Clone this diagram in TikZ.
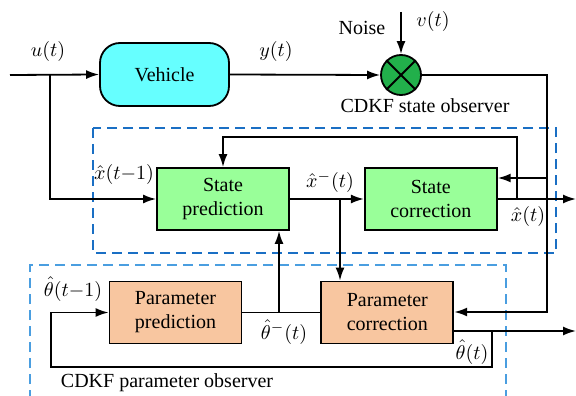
\documentclass[tikz,border=0pt]{standalone}
\usepackage{fontspec}
\setmainfont{Liberation Serif}
\usepackage{tikz}
\usetikzlibrary{arrows.meta, positioning}
\definecolor{vehcyan}{HTML}{66FFFF}
\definecolor{stategreen}{HTML}{99FF99}
\definecolor{paramorange}{HTML}{F8C6A0}
\definecolor{sumgreen}{HTML}{22B04B}
\definecolor{obsblue}{HTML}{1A6FC4}
\definecolor{obslight}{HTML}{4A9EE0}

\begin{document}
\begin{tikzpicture}[
  x=0.5pt, y=-0.5pt,
  box/.style={draw, line width=0.9pt, minimum width=66pt, minimum height=31pt, align=center, inner sep=1pt},
  sbox/.style={box, fill=stategreen},
  pbox/.style={box, fill=paramorange},
  lbl/.style={inner sep=0.5pt},
  con/.style={line width=0.9pt},
  arr/.style={con, -{Latex[length=6.5pt,width=4.5pt]}},
  obsbox/.style={obsblue, line width=1pt, dash pattern=on 5pt off 3pt},
  obsbox2/.style={obslight, line width=0.8pt, dash pattern=on 5pt off 3pt},
]
\useasboundingbox (0,0) rectangle (576,395);
% observer frames
\draw[obsbox] (93,128) rectangle (556,253);
\draw[obsbox2] (30,400) -- (30,265) -- (506,265) -- (506,400);
% blocks
\node[box, fill=vehcyan, rounded corners=10pt, minimum width=64.5pt, minimum height=31.5pt] (veh) at (164.5,74.5) {Vehicle};
\node[circle, draw, fill=sumgreen, minimum size=20pt, inner sep=0pt, line width=0.9pt] (sum) at (401,75) {};
\draw[con] (sum.north west) -- (sum.south east);
\draw[con] (sum.north east) -- (sum.south west);
\node[sbox] (sp) at (223,199) {State\\prediction};
\node[sbox, right=37pt of sp] (sc) {State\\correction};
\node[pbox] (pp) at (175.5,312.5) {Parameter\\prediction};
\node[pbox, right=39pt of pp] (pc) {Parameter\\correction};
% labels
\node[lbl] (lu) at (48,52) {$u(t)$};
\node[lbl] (ly) at (276,52) {$y(t)$};
\node[lbl] (lnoise) at (362,28) {Noise};
\node[lbl] (lv) at (433,22) {$v(t)$};
\node[lbl] (lstate) at (425,106) {CDKF state observer};
\node[lbl] (lxold) at (124,174) {$\hat{x}(t{-}1)$};
\node[lbl] (lxpre) at (330,182) {$\hat{x}^{-}(t)$};
\node[lbl] (lxnew) at (528,216) {$\hat{x}(t)$};
\node[lbl] (lthold) at (73,289) {$\hat{\theta}(t{-}1)$};
\node[lbl] (lthpre) at (284,332) {$\hat{\theta}^{-}(t)$};
\node[lbl] (lthnew) at (472,352) {$\hat{\theta}(t)$};
\node[lbl] (lparam) at (167,383) {CDKF parameter observer};
% helper points
\coordinate (uin) at (10,75);
\coordinate (ubr) at (50,75);
\coordinate (noisetop) at (401,12);
\coordinate (xout) at (576,199);
\coordinate (thout) at (576,331);
% connectors
\draw[arr] (uin) -- (veh.west);
\draw[arr] (ubr) |- (sp.west);
\draw[arr] (veh.east) -- (sum.west);
\draw[arr] (noisetop) -- (sum.north);
\draw[arr] (sum.east) -| (547,312) -- (pc.east |- 0,312);
\draw[arr] (547,178) -- (sc.east |- 0,178);
\draw[arr] (sp.east) -- (sc.west);
\draw[arr] (340,199) -- (pc.north -| 340,0);
\draw[arr] (sc.east) -- (xout);
\draw[arr] (517,199) -- (517,137) -| (sp.north);
\draw[con] (pp.east) -- (pc.west);
\draw[arr] (279,312) -- (sp.south -| 279,0);
\draw[arr] (pc.east |- 0,331) -- (thout);
\draw[arr] (492,331) |- (51,367) |- (pp.west);
\end{tikzpicture}
\end{document}
